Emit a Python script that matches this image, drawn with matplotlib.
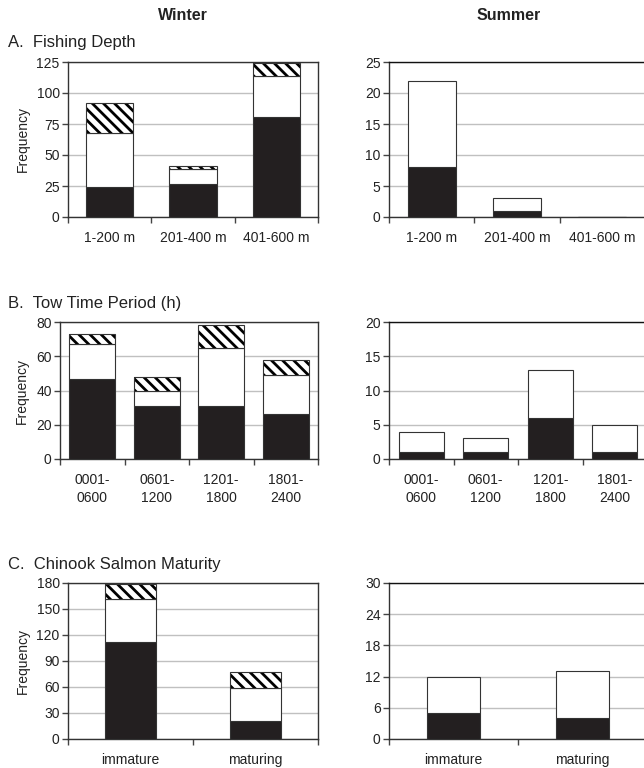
import matplotlib
matplotlib.use("Agg")
import matplotlib.pyplot as plt
import numpy as np

plt.rcParams['font.family'] = ['Liberation Sans', 'DejaVu Sans']
plt.rcParams['hatch.linewidth'] = 2.0

# Panel A: Fishing depth
depth_cats = ["1-200 m", "201-400 m", "401-600 m"]
depth_winter_black = [24, 27, 81]
depth_winter_white = [44, 12, 33]
depth_winter_hatch = [24, 2, 10]
depth_summer_black = [8, 1, 0]
depth_summer_white = [14, 2, 0]
depth_summer_hatch = [0, 0, 0]

# Panel B: Tow time period
tow_cats = ["0001-\n0600", "0601-\n1200", "1201-\n1800", "1801-\n2400"]
tow_winter_black = [47, 31, 31, 26]
tow_winter_white = [20, 9, 34, 23]
tow_winter_hatch = [6, 8, 13, 9]
tow_summer_black = [1, 1, 6, 1]
tow_summer_white = [3, 2, 7, 4]
tow_summer_hatch = [0, 0, 0, 0]

# Panel C: Maturity
mat_cats = ["immature", "maturing"]
mat_winter_black = [112, 21]
mat_winter_white = [50, 38]
mat_winter_hatch = [17, 18]
mat_summer_black = [5, 4]
mat_summer_white = [7, 9]
mat_summer_hatch = [0, 0]

W, H = 644, 768
fig = plt.figure(figsize=(W / 100, H / 100), dpi=100)


def add_ax(x0, y0, x1, y1):
    return fig.add_axes([x0 / W, 1 - y1 / H, (x1 - x0) / W, (y1 - y0) / H])


def draw(ax, cats, black, white, hatch, ymax, step, width, left=True, ylabel=True):
    n = len(cats)
    x = np.arange(n)
    b = np.array(black, float)
    w = np.array(white, float)
    h = np.array(hatch, float)
    ec = "#333333"
    ax.bar(x, b, width, color="#231f20", edgecolor=ec, linewidth=0.8, zorder=3)
    ax.bar(x, w, width, bottom=b, color="white", edgecolor=ec, linewidth=0.8, zorder=3)
    mask = h > 0
    ax.bar(x[mask], h[mask], width, bottom=(b + w)[mask], color="white",
           edgecolor="black", hatch="\\\\\\", linewidth=0, zorder=3)
    ax.bar(x[mask], h[mask], width, bottom=(b + w)[mask], fill=False,
           edgecolor=ec, linewidth=0.8, zorder=4)
    ax.set_xlim(-0.5, n - 0.5)
    ax.set_ylim(0, ymax)
    ticks = np.arange(0, ymax + step / 2, step)
    ax.set_yticks(ticks)
    ax.set_yticklabels([f"{int(t)}" for t in ticks])
    ax.yaxis.grid(True, color="#c0c0c0", linewidth=1.0, zorder=0)
    ax.set_axisbelow(True)
    ax.set_xticks(x)
    ax.set_xticklabels(cats, linespacing=1.35)
    ax.set_xticks(np.arange(0, n + 1) - 0.5, minor=True)
    ax.tick_params(axis="x", which="major", length=0, pad=10, labelsize=10, colors="#222222")
    ax.tick_params(axis="x", which="minor", length=4, width=1, color="#444444", direction="out")
    ax.tick_params(axis="y", length=4, width=1, color="#444444", labelsize=10, pad=2,
                   labelcolor="#222222")
    for s in ax.spines.values():
        s.set_color("#333333")
        s.set_linewidth(1.0)
    if not left:
        ax.spines["top"].set_color("#111111")
    if ylabel:
        ax.set_ylabel("Frequency", fontsize=10, color="#222222", labelpad=5)


ax = add_ax(68, 62, 318, 217)
draw(ax, depth_cats, depth_winter_black, depth_winter_white, depth_winter_hatch, 125, 25, 0.57)
ax = add_ax(389, 62, 645, 217)
draw(ax, depth_cats, depth_summer_black, depth_summer_white, depth_summer_hatch, 25, 5, 0.56, left=False, ylabel=False)

ax = add_ax(60, 322, 318, 459)
draw(ax, tow_cats, tow_winter_black, tow_winter_white, tow_winter_hatch, 80, 20, 0.71)
ax = add_ax(389, 322, 647, 459)
draw(ax, tow_cats, tow_summer_black, tow_summer_white, tow_summer_hatch, 20, 5, 0.70, left=False, ylabel=False)

ax = add_ax(68, 583, 318, 739)
draw(ax, mat_cats, mat_winter_black, mat_winter_white, mat_winter_hatch, 180, 30, 0.41)
ax = add_ax(389, 583, 647, 739)
draw(ax, mat_cats, mat_summer_black, mat_summer_white, mat_summer_hatch, 30, 6, 0.41, left=False, ylabel=False)

fig.text(183 / W, 1 - 15 / H, "Winter", ha="center", va="center", fontsize=11.5, fontweight="bold", color="#222222")
fig.text(509 / W, 1 - 15 / H, "Summer", ha="center", va="center", fontsize=11.5, fontweight="bold", color="#222222")
fig.text(8 / W, 1 - 43 / H, "A.  Fishing Depth", ha="left", va="center", fontsize=12, color="#222222")
fig.text(8 / W, 1 - 304 / H, "B.  Tow Time Period (h)", ha="left", va="center", fontsize=12, color="#222222")
fig.text(8 / W, 1 - 565 / H, "C.  Chinook Salmon Maturity", ha="left", va="center", fontsize=12, color="#222222")

fig.savefig("out.png", dpi=100, facecolor="white")
